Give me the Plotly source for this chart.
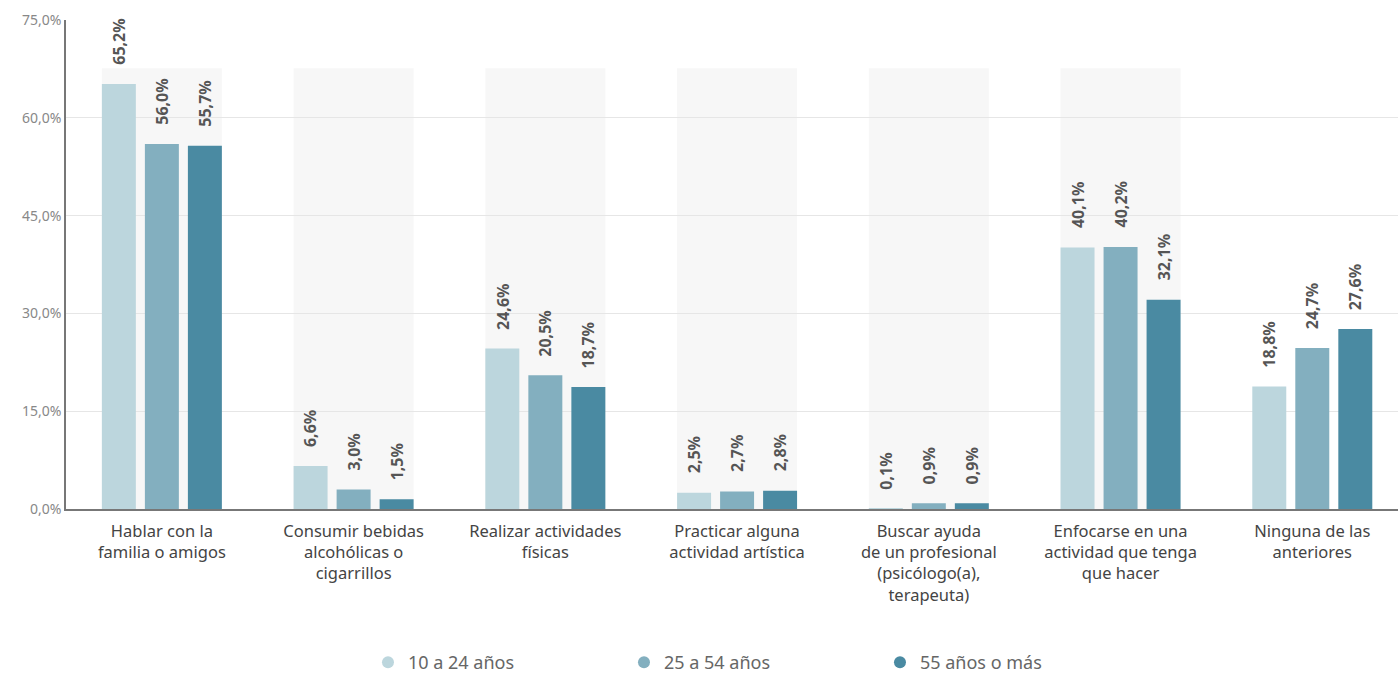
import plotly.graph_objects as go

categories = [
    "Hablar con la<br>familia o amigos",
    "Consumir bebidas<br>alcohólicas o<br>cigarrillos",
    "Realizar actividades<br>físicas",
    "Practicar alguna<br>actividad artística",
    "Buscar ayuda<br>de un profesional<br>(psicólogo(a),<br>terapeuta)",
    "Enfocarse en una<br>actividad que tenga<br>que hacer",
    "Ninguna de las<br>anteriores",
]
series_names = ["10 a 24 años", "25 a 54 años", "55 años o más"]
v_10_24 = [65.2, 6.6, 24.6, 2.5, 0.1, 40.1, 18.8]
v_25_54 = [56.0, 3.0, 20.5, 2.7, 0.9, 40.2, 24.7]
v_55 = [55.7, 1.5, 18.7, 2.8, 0.9, 32.1, 27.6]
band_height = 67.6
band_categories = 6
tick_vals = [0, 15, 30, 45, 60, 75]
tick_text = ["0,0%", "15,0%", "30,0%", "45,0%", "60,0%", "75,0%"]

colors = ["#bcd6dd", "#83afbf", "#4a8aa2"]
series = [v_10_24, v_25_54, v_55]
FONT = "Noto Sans"

fig = go.Figure()
xs = list(range(len(categories)))
for name, vals, c in zip(series_names, series, colors):
    fig.add_trace(go.Bar(x=xs, y=vals, name=name, marker_color=c,
                         marker_line_width=0, showlegend=False))
for name, c in zip(series_names, colors):
    fig.add_trace(go.Scatter(x=[None], y=[None], mode="markers", name=name,
                             marker=dict(color=c, size=17, symbol="circle")))

bargap = 0.327
slot = (1 - bargap) / 3
half = 1.5 * slot - slot * 0.21 / 2
shapes = []
for i in range(band_categories):
    shapes.append(dict(type="rect", xref="x", yref="y", x0=i - half, x1=i + half,
                       y0=0, y1=band_height, fillcolor="#f7f7f7", line_width=0,
                       layer="below"))

annotations = []
for j, vals in enumerate(series):
    for i, v in enumerate(vals):
        annotations.append(dict(x=i + (j - 1) * slot, y=v, xref="x", yref="y",
                                text=f"{v:.1f}%".replace(".", ","), showarrow=False,
                                textangle=-90, yanchor="bottom", xanchor="center",
                                yshift=17,
                                font=dict(family=FONT, size=16, color="#555555",
                                          weight="bold")))

fig.update_layout(
    width=1398, height=681,
    margin=dict(l=66, r=0, t=20, b=172),
    plot_bgcolor="white", paper_bgcolor="white",
    barmode="group", bargap=bargap, bargroupgap=0.21,
    shapes=shapes, annotations=annotations,
    font=dict(family=FONT),
    legend=dict(orientation="h", xref="paper", x=0.515, xanchor="center",
                yref="container", y=0.0, yanchor="bottom",
                font=dict(size=18, color="#666666"), entrywidth=211,
                itemsizing="constant"),
    xaxis=dict(range=[-0.5, 6.447], tickvals=xs, ticktext=categories,
               tickfont=dict(size=16.5, color="#444444"), showgrid=False,
               showline=True, linecolor="#777777", linewidth=1.5, ticks="",
               zeroline=False, automargin=False, ticklabelstandoff=6),
    yaxis=dict(range=[0, 75], tickvals=tick_vals, ticktext=tick_text,
               tickfont=dict(size=14, color="#888888"), showgrid=True,
               gridcolor="#e6e6e6", gridwidth=1, showline=True,
               linecolor="#777777", linewidth=1.5, zeroline=False, ticks="",
               automargin=False),
)
fig.write_html("out.html")
